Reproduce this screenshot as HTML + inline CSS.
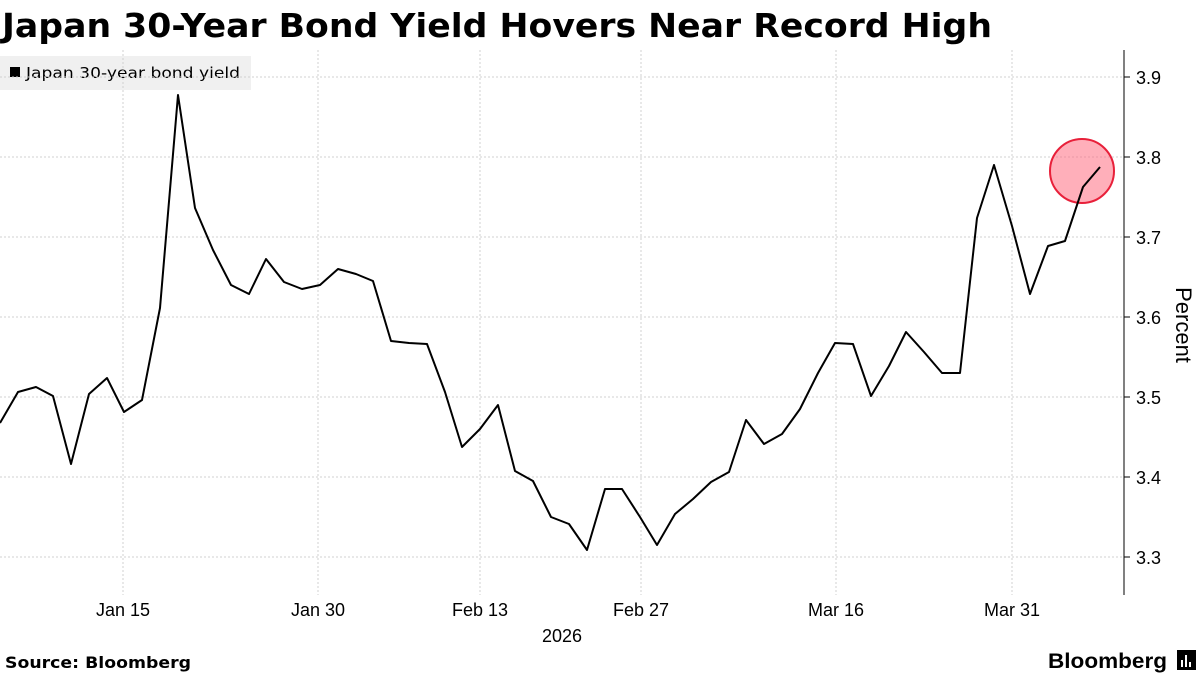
<!DOCTYPE html>
<html><head><meta charset="utf-8"><style>
html,body{margin:0;padding:0;background:#fff;width:1200px;height:675px;overflow:hidden;font-family:"Liberation Sans",sans-serif;}
</style></head><body>
<svg width="1200" height="675" viewBox="0 0 1200 675" xmlns="http://www.w3.org/2000/svg" font-family="Liberation Sans, sans-serif">
<text x="2" y="37" font-size="33" font-weight="bold" fill="#000" font-family="DejaVu Sans, sans-serif" textLength="990" lengthAdjust="spacingAndGlyphs">Japan 30-Year Bond Yield Hovers Near Record High</text>
<rect x="0" y="56" width="251" height="34" fill="#f0f0f0"/>
<rect x="10" y="67" width="10" height="10" fill="#000"/>
<text x="26" y="78" font-size="15" fill="#000" font-family="DejaVu Sans, sans-serif" textLength="214" lengthAdjust="spacingAndGlyphs">Japan 30-year bond yield</text>
<g stroke="#d0d0d0" stroke-width="1" stroke-dasharray="2,2">
<line x1="0" x2="1124" y1="77" y2="77"/><line x1="0" x2="1124" y1="157" y2="157"/>
<line x1="0" x2="1124" y1="237" y2="237"/><line x1="0" x2="1124" y1="317" y2="317"/>
<line x1="0" x2="1124" y1="397" y2="397"/><line x1="0" x2="1124" y1="477" y2="477"/>
<line x1="0" x2="1124" y1="557" y2="557"/>
<line x1="123" x2="123" y1="50" y2="595"/><line x1="318" x2="318" y1="50" y2="595"/>
<line x1="480" x2="480" y1="50" y2="595"/><line x1="641" x2="641" y1="50" y2="595"/>
<line x1="836" x2="836" y1="50" y2="595"/><line x1="1012" x2="1012" y1="50" y2="595"/>
</g>
<line x1="1124" x2="1124" y1="50" y2="595" stroke="#000" stroke-width="1"/>
<g stroke="#000"><line x1="1124" x2="1130" y1="77" y2="77"/><line x1="1124" x2="1130" y1="157" y2="157"/><line x1="1124" x2="1130" y1="237" y2="237"/><line x1="1124" x2="1130" y1="317" y2="317"/><line x1="1124" x2="1130" y1="397" y2="397"/><line x1="1124" x2="1130" y1="477" y2="477"/><line x1="1124" x2="1130" y1="557" y2="557"/></g>
<g font-size="18" fill="#000">
<text x="1136" y="84">3.9</text><text x="1136" y="164">3.8</text><text x="1136" y="244">3.7</text><text x="1136" y="324">3.6</text><text x="1136" y="404">3.5</text><text x="1136" y="484">3.4</text><text x="1136" y="564">3.3</text>
</g>
<text transform="translate(1176,325) rotate(90)" font-size="22" text-anchor="middle" fill="#000">Percent</text>
<g font-size="18" fill="#000" text-anchor="middle">
<text x="123" y="616">Jan 15</text><text x="318" y="616">Jan 30</text><text x="480" y="616">Feb 13</text><text x="641" y="616">Feb 27</text><text x="836" y="616">Mar 16</text><text x="1012" y="616">Mar 31</text>
<text x="562" y="642">2026</text>
</g>
<circle cx="1082" cy="171" r="32" fill="rgba(255,110,130,0.55)" stroke="#e8203a" stroke-width="2"/>
<polyline fill="none" stroke="#000" stroke-width="2" stroke-linejoin="round" points="0,423 18,392 36,387 53,396 71,464 89,394 107,378 124,412 142,400 160,308 178,95 195,208 213,250 231,285 249,294 266,259 284,282 302,289 320,285 338,269 356,274 373,281 391,341 409,343 427,344 445,392 462,447 480,429 498,405 515,471 533,481 551,517 569,524 587,550 605,489 622,489 640,517 657,545 675,514 693,499 711,482 729,472 746,420 764,444 782,434 800,409 818,373 835,343 853,344 871,396 889,366 906,332 924,352 942,373 960,373 977,218 994,165 1012,226 1030,294 1048,246 1065,241 1083,187 1100,167"/>
<text x="5" y="668" font-size="16" font-weight="bold" fill="#000" font-family="DejaVu Sans, sans-serif" textLength="186" lengthAdjust="spacingAndGlyphs">Source: Bloomberg</text>
<text x="1048" y="668" font-size="21" font-weight="bold" fill="#000" textLength="119" lengthAdjust="spacingAndGlyphs">Bloomberg</text>
<rect x="1177" y="650" width="19" height="20" fill="#000"/>
<rect x="1181" y="660" width="2" height="7" fill="#fff"/><rect x="1185" y="655" width="2" height="12" fill="#fff"/><rect x="1189" y="662" width="2" height="5" fill="#fff"/>
</svg>
</body></html>
